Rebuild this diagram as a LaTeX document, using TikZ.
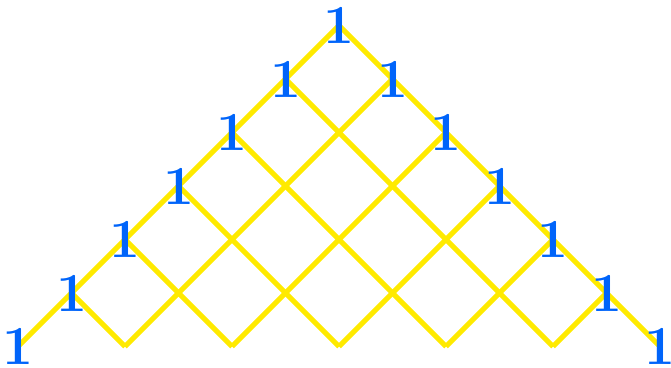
\documentclass[tikz,border=0pt]{standalone}
\definecolor{ylw}{RGB}{255,234,0}
\definecolor{blu}{RGB}{0,100,250}
\begin{document}
\begin{tikzpicture}[x=1pt,y=1pt,
  lat/.style={draw=ylw,line width=5pt},
  one/.style={text=blu,font=\fontsize{55}{55}\selectfont\bfseries,inner sep=0pt}]
\useasboundingbox (0,0) rectangle (671,367);
\def\s{53.5}
\foreach \a in {0,...,6}{
  \foreach \b in {0,...,6}{
    \pgfmathtruncatemacro\t{\a+\b}
    \ifnum\t<7
      \coordinate (p-\a-\b) at ({339-\s*\a+\s*\b},{341.5-\s*\a-\s*\b});
    \fi
  }
}
\foreach \k in {0,...,5}{
  \pgfmathtruncatemacro\r{6-\k}
  \draw[lat] (p-\k-0) -- (p-\k-\r);
  \draw[lat] (p-0-\k) -- (p-\r-\k);
}
\foreach \k in {0,...,6}{
  \node[one] (l\k) at (p-\k-0) {1};
}
\foreach \k in {1,...,6}{
  \node[one] (r\k) at (p-0-\k) {1};
}
\end{tikzpicture}
\end{document}
